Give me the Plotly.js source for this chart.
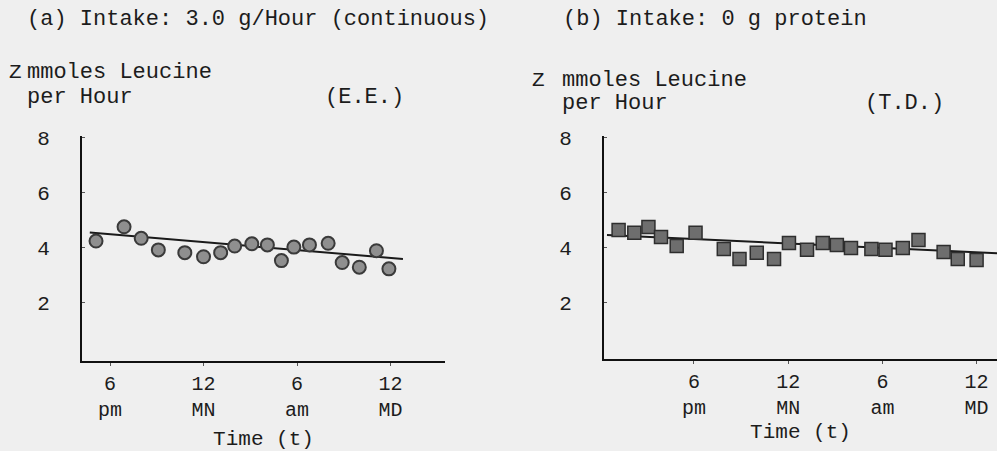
<!DOCTYPE html>
<html>
<head>
<meta charset="utf-8">
<script src="https://cdn.plot.ly/plotly-3.0.1.min.js"></script>
<style>html,body{margin:0;padding:0;background:#efefef;}</style>
</head>
<body>
<div id="chart" style="width:997px;height:451px;"></div>
<script>
// Time in hours after noon of day 1 (18 = 6 pm, 24 = midnight, 30 = 6 am, 36 = noon)
const tickVals = [18, 24, 30, 36];
const tickText = ["6<br>pm", "12<br>MN", "6<br>am", "12<br>MD"];
const yTickVals = [2, 4, 6, 8];

// (a) Intake 3.0 g/Hour (continuous), subject E.E.
const timeA = [17.1, 18.9, 20.0, 21.1, 22.8, 24.0, 25.1, 26.0, 27.1, 28.1, 29.0, 29.8, 30.8, 32.0, 32.9, 34.0, 35.1, 35.9];
const leucineA = [4.25, 4.77, 4.35, 3.93, 3.83, 3.68, 3.83, 4.07, 4.15, 4.11, 3.54, 4.03, 4.11, 4.17, 3.47, 3.30, 3.90, 3.24];
const fitA_x = [16.7, 36.8];
const fitA_y = [4.56, 3.60];

// (b) Intake 0 g protein, subject T.D.
const timeB = [13.2, 14.2, 15.1, 15.9, 16.9, 18.1, 19.9, 20.9, 22.0, 23.1, 24.05, 25.2, 26.2, 27.1, 28.0, 29.3, 30.2, 31.3, 32.3, 33.9, 34.8, 36.0];
const leucineB = [4.65, 4.55, 4.76, 4.40, 4.07, 4.55, 3.96, 3.60, 3.82, 3.60, 4.18, 3.93, 4.18, 4.11, 4.00, 3.96, 3.93, 4.00, 4.29, 3.85, 3.60, 3.56];
const fitB_x = [12.46, 37.3];
const fitB_y = [4.47, 3.81];

const FONT = "Liberation Mono, DejaVu Sans Mono, monospace";
const INK = "#1c1c1c";
const W = 997, H = 451;
const px = v => v / W;
const py = v => (H - v) / H;

const traces = [
  {x: fitA_x, y: fitA_y, xaxis: "x", yaxis: "y", mode: "lines", line: {color: "#1a1a1a", width: 2}, hoverinfo: "skip"},
  {x: timeA, y: leucineA, xaxis: "x", yaxis: "y", mode: "markers",
   marker: {symbol: "circle", size: 13, color: "#8f8f8f", line: {color: "#3a3a3a", width: 2}}},
  {x: fitB_x, y: fitB_y, xaxis: "x2", yaxis: "y2", mode: "lines", line: {color: "#1a1a1a", width: 2}, hoverinfo: "skip"},
  {x: timeB, y: leucineB, xaxis: "x2", yaxis: "y2", mode: "markers",
   marker: {symbol: "square", size: 13, color: "#6e6e6e", line: {color: "#2e2e2e", width: 1.5}}}
];

const xCommon = {
  tickvals: tickVals, ticktext: tickText, showgrid: false, zeroline: false,
  showline: true, linecolor: "#111", linewidth: 2, ticks: "outside", ticklen: 3, tickcolor: "#555",
  tickfont: {family: FONT, size: 20, color: INK}, fixedrange: true
};
const yCommon = {
  tickvals: yTickVals, showgrid: false, zeroline: false,
  showline: true, linecolor: "#111", linewidth: 2, ticks: "inside", ticklen: 3, tickcolor: "#555",
  tickfont: {family: FONT, size: 21, color: INK}, ticklabelstandoff: 26, fixedrange: true
};

const ann = (text, x, y, size) => ({text: text, x: px(x), y: py(y), xref: "paper", yref: "paper",
  xanchor: "left", yanchor: "middle", showarrow: false, font: {family: FONT, size: size, color: INK}});

const layout = {
  width: W, height: H,
  margin: {l: 0, r: 0, t: 0, b: 0},
  paper_bgcolor: "#efefef", plot_bgcolor: "#efefef",
  showlegend: false,
  xaxis: Object.assign({}, xCommon, {domain: [px(82), px(445)], range: [16.2, 39.5], anchor: "y",
    title: {text: "Time (t)", font: {family: FONT, size: 21, color: INK}, standoff: 10}}),
  yaxis: Object.assign({}, yCommon, {domain: [py(361), py(136)], range: [-0.11, 8.07], anchor: "x"}),
  xaxis2: Object.assign({}, xCommon, {domain: [px(604), 1], range: [12.27, 37.3], anchor: "y2",
    title: {text: "Time (t)", font: {family: FONT, size: 21, color: INK}, standoff: 4}}),
  yaxis2: Object.assign({}, yCommon, {domain: [py(359), py(136)], range: [-0.04, 8.07], anchor: "x2"}),
  annotations: [
    ann("(a) Intake: 3.0 g/Hour (continuous)", 25, 20, 22),
    ann("(b) Intake: 0 g protein", 561, 20, 22),
    ann("Z", 7, 72, 21),
    ann("mmoles Leucine", 25, 72, 22),
    ann("per Hour", 25, 97, 22),
    ann("(E.E.)", 323, 97, 22),
    ann("Z", 530, 81, 21),
    ann("mmoles Leucine", 560, 81, 22),
    ann("per Hour", 560, 103, 22),
    ann("(T.D.)", 863, 103, 22)
  ]
};

Plotly.newPlot("chart", traces, layout, {displayModeBar: false, staticPlot: true});
</script>
</body>
</html>
